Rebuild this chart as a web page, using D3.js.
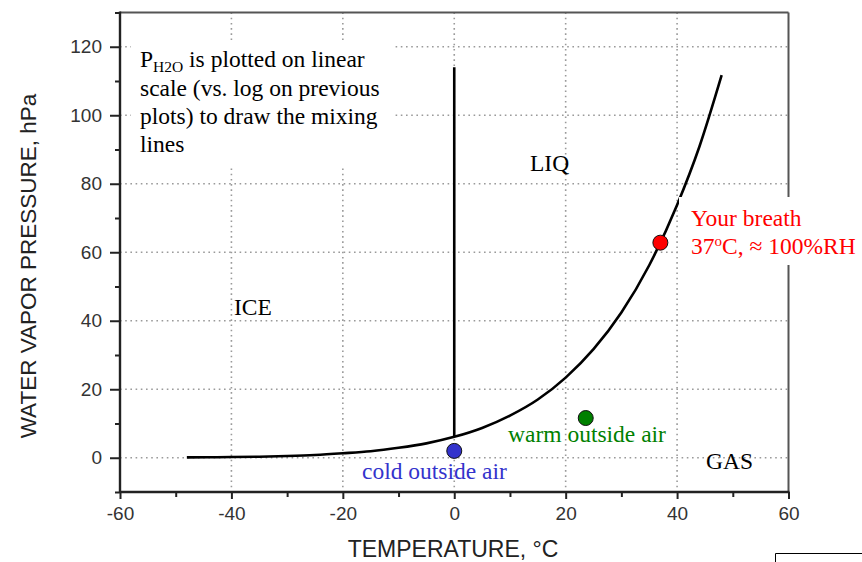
<!DOCTYPE html>
<html>
<head>
<meta charset="utf-8">
<script src="https://cdn.jsdelivr.net/npm/d3@7"></script>
<style>
  html, body { margin: 0; padding: 0; background: #fff; }
  svg { display: block; }
</style>
</head>
<body>
<svg id="chart" width="862" height="562"></svg>
<script>
// Saturation vapour pressure over liquid water (hPa) against temperature (°C)
const curveTemps = [-48, -44, -40, -35, -30, -25, -20, -15, -10, -5, 0, 5, 10, 15, 20, 25, 30, 35, 40, 44, 48];
const curvePress = [0.1, 0.15, 0.2, 0.3, 0.5, 0.8, 1.3, 1.9, 2.9, 4.2, 6.1, 8.7, 12.3, 17.0, 23.4, 31.7, 42.4, 56.2, 73.8, 90.8, 111.7];

// Ice / liquid boundary at 0 °C
const meltTemps = [0, 0];
const meltPress = [6.1, 114];

// Sample air parcels
const parcelNames = ["cold", "warm", "breath"];
const parcelTemps = [0, 23.6, 37];
const parcelPress = [2.0, 11.6, 62.8];
const parcelColors = ["#3333cc", "#008000", "#ff0000"];

const xTicks = [-60, -40, -20, 0, 20, 40, 60];
const xMinor = [-50, -30, -10, 10, 30, 50];
const yTicks = [0, 20, 40, 60, 80, 100, 120];
const yMinor = [-10, 10, 30, 50, 70, 90, 110, 130];

const svg = d3.select("#chart");
const L = 120, R = 788.5, T = 12.5, B = 492;

const x = d3.scaleLinear().domain([-60, 60]).range([L, R]);
const y = d3.scaleLinear().domain([-10, 130]).range([B, T]);

const sans = "'Liberation Sans', Arial, sans-serif";
const serif = "'Liberation Serif', 'Times New Roman', serif";

// Dotted grid
const grid = svg.append("g").attr("stroke", "#9a9a9a").attr("stroke-width", 1.6)
  .attr("stroke-dasharray", "1.6,3.6").attr("fill", "none");
grid.selectAll("line.gx").data(xTicks.filter(d => d > -60 && d < 60)).join("line")
  .attr("x1", d => x(d)).attr("x2", d => x(d)).attr("y1", T).attr("y2", B);
grid.selectAll("line.gy").data(yTicks).join("line")
  .attr("x1", L).attr("x2", R).attr("y1", d => y(d)).attr("y2", d => y(d));

// Note box (white background hides grid behind text)
svg.append("rect").attr("x", 131).attr("y", 40).attr("width", 264).attr("height", 125).attr("fill", "#fff");

// Frame: top and right
svg.append("line").attr("x1", L).attr("x2", R).attr("y1", T).attr("y2", T)
  .attr("stroke", "#555").attr("stroke-width", 2);
svg.append("line").attr("x1", R).attr("x2", R).attr("y1", T).attr("y2", B)
  .attr("stroke", "#555").attr("stroke-width", 2);

// Axes
const fmt = d => String(d);
const xAxis = d3.axisBottom(x).tickValues(xTicks).tickSize(7).tickPadding(8).tickFormat(fmt);
const yAxis = d3.axisLeft(y).tickValues(yTicks).tickSize(10).tickPadding(8).tickFormat(fmt);
const gx = svg.append("g").attr("transform", `translate(0,${B})`).call(xAxis);
const gy = svg.append("g").attr("transform", `translate(${L},0)`).call(yAxis);
const gxm = svg.append("g").attr("transform", `translate(0,${B})`)
  .call(d3.axisBottom(x).tickValues(xMinor).tickSize(5).tickFormat(""));
const gym = svg.append("g").attr("transform", `translate(${L},0)`)
  .call(d3.axisLeft(y).tickValues(yMinor).tickSize(5).tickFormat(""));
[gx, gy, gxm, gym].forEach(g => {
  g.select(".domain").remove();
  g.selectAll(".tick line").attr("stroke", "#222").attr("stroke-width", 2);
  g.selectAll(".tick text").attr("font-family", sans).attr("font-size", 19).attr("fill", "#333");
});
svg.append("line").attr("x1", L).attr("x2", R + 1).attr("y1", B).attr("y2", B)
  .attr("stroke", "#222").attr("stroke-width", 2.4);
svg.append("line").attr("x1", L).attr("x2", L).attr("y1", T - 1).attr("y2", B + 1)
  .attr("stroke", "#222").attr("stroke-width", 2.4);

// Axis titles
svg.append("text").attr("x", 453).attr("y", 557).attr("text-anchor", "middle")
  .attr("font-family", sans).attr("font-size", 23).attr("fill", "#222")
  .text("TEMPERATURE, \u00B0C");
svg.append("text").attr("transform", "translate(36,266) rotate(-90)").attr("text-anchor", "middle")
  .attr("font-family", sans).attr("font-size", 22.5).attr("fill", "#222")
  .text("WATER VAPOR PRESSURE, hPa");

// Saturation curve and melting line
const line = d3.line().x(d => x(d[0])).y(d => y(d[1])).curve(d3.curveMonotoneX);
svg.append("path").datum(d3.zip(curveTemps, curvePress)).attr("d", line)
  .attr("fill", "none").attr("stroke", "#000").attr("stroke-width", 2.6);
svg.append("path").datum(d3.zip(meltTemps, meltPress))
  .attr("d", d3.line().x(d => x(d[0])).y(d => y(d[1])))
  .attr("fill", "none").attr("stroke", "#000").attr("stroke-width", 2.6);

// Breath label background
svg.append("rect").attr("x", 679).attr("y", 197).attr("width", 183).attr("height", 68).attr("fill", "#fff");

// Parcels
svg.selectAll("circle.parcel").data(parcelNames).join("circle").attr("class", "parcel")
  .attr("cx", (d, i) => x(parcelTemps[i])).attr("cy", (d, i) => y(parcelPress[i])).attr("r", 7.5)
  .attr("fill", (d, i) => parcelColors[i]).attr("stroke", "#111").attr("stroke-width", 1);

// Region labels
const lbl = (tx, ty, s, c) => svg.append("text").attr("x", tx).attr("y", ty)
  .attr("font-family", serif).attr("font-size", 23.5).attr("fill", c || "#000").text(s);
lbl(234, 315, "ICE");
lbl(530, 171, "LIQ");
lbl(706, 469, "GAS");
lbl(362, 479, "cold outside air", parcelColors[0]);
lbl(508, 442, "warm outside air", parcelColors[1]);
lbl(691, 226, "Your breath", parcelColors[2]);
const b2 = lbl(691, 254, "37", parcelColors[2]);
b2.append("tspan").attr("font-size", 15).attr("dy", -8).text("o");
b2.append("tspan").attr("dy", 8).text("C, \u2248 100%RH");

// Note text
const note = svg.append("g").attr("font-family", serif).attr("font-size", 23.5).attr("fill", "#000");
const n1 = note.append("text").attr("x", 140).attr("y", 67).text("P");
n1.append("tspan").attr("font-size", 15.5).attr("dy", 5).text("H2O");
n1.append("tspan").attr("dy", -5).text(" is plotted on linear");
note.append("text").attr("x", 140).attr("y", 96).text("scale (vs. log on previous");
note.append("text").attr("x", 140).attr("y", 124).text("plots) to draw the mixing");
note.append("text").attr("x", 140).attr("y", 152).text("lines");

// Stray border fragment
svg.append("path").attr("d", "M775.5,562 V553.5 H862").attr("fill", "none").attr("stroke", "#000").attr("stroke-width", 1);
</script>
</body>
</html>
